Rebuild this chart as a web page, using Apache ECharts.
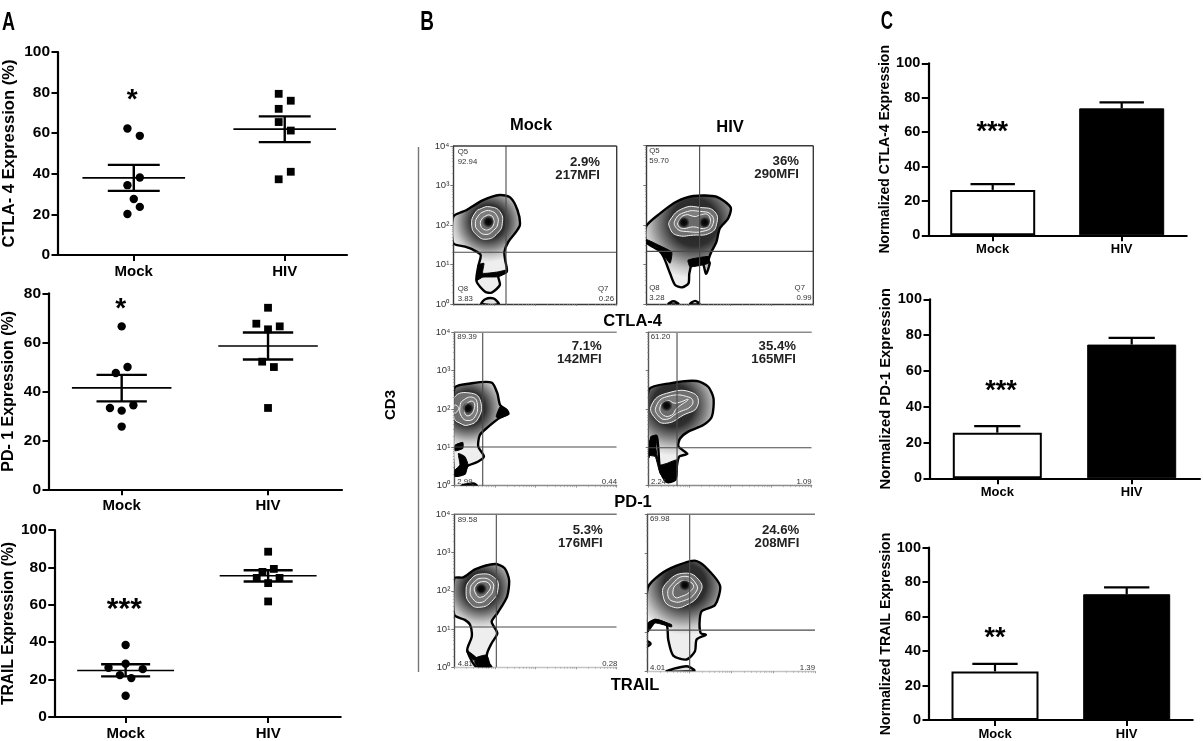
<!DOCTYPE html>
<html><head><meta charset="utf-8">
<style>html,body{margin:0;padding:0;background:#fff}#c{width:1203px;height:741px}</style>
<script src="https://cdn.jsdelivr.net/npm/echarts@6/dist/echarts.min.js"></script>
</head><body><div id="c"></div>
<script>
const groups = ['Mock', 'HIV'];

// Panel A: each dot [group position with jitter, percent]
const ctlaMockDots = [[0.958,62.3],[1.04,58.7],[1.04,38.2],[0.958,34.4],[1,27.6],[1.04,23.7],[0.958,20.2]];
const ctlaHivDots  = [[1.96,79.4],[2.04,76],[1.96,72],[1.96,65.5],[2.04,61.3],[2.04,41],[1.96,37.3]];
const pd1MockDots  = [[1,66.5],[1.04,49.9],[0.96,47.5],[1.08,34.3],[0.92,33.2],[1,32.1],[1,25.6]];
const pd1HivDots   = [[2,74.1],[1.92,67.6],[2.08,66.5],[2,65.3],[1.96,52.1],[2.04,49.9],[2,33.2]];
const trailMockDots= [[1,38.5],[1,28.5],[0.88,26.3],[1.12,25.6],[0.96,22.4],[1.04,20.8],[1,11.4]];
const trailHivDots = [[2,88.4],[2.04,79.2],[1.96,77.6],[1.92,74.4],[2.08,74.4],[2,71.6],[2,61.8]];
// [mean, SEM upper, SEM lower] for Mock, HIV
const ctlaStats  = [[38,44.4,31.6],[62,68.3,55.6]];
const pd1Stats   = [[41.4,46.7,35.9],[58.5,64,53]];
const trailStats = [[24.9,28.2,21.7],[75.5,78.5,72.5]];

// Panel C: normalized means and upper error
const ctlaNormMeans  = [26.4,73.8];
const ctlaNormErr    = [29.8,77.3];
const pd1NormMeans   = [25.5,74.7];
const pd1NormErr     = [29.2,78.4];
const trailNormMeans = [28.2,73];
const trailNormErr   = [32.6,77];

// Panel B: contours, in decades of fluorescence [log10 x, log10 CD3]
const ctlaMockOutline = [[0,2.21],[.33,2.38],[.73,2.63],[1.14,2.76],[1.39,2.70],[1.57,2.38],[1.63,2.0],[1.51,1.79],[1.35,1.58],[1.25,1.32],[1.27,1.11],[1.31,.82],[1.10,.73],[1.14,.48],[.94,.29],[.78,.31],[.57,.57],[.61,.95],[.67,1.24],[.49,1.37],[.29,1.45],[0,1.54]];
const ctlaMockExtra = [[[.69,0],[.78,.12],[.98,.14],[1.11,0]]];
const ctlaMockHeavy = [[[.61,.99],[.75,1.03],[.72,.78],[1.08,.81],[1.31,.86],[1.31,.79],[1.10,.69],[.72,.68],[.56,.59],[.59,.82]]];
const ctlaMockRings = [
 [[.90,2.46],[1.14,2.34],[1.20,2.04],[1.08,1.79],[.82,1.64],[.57,1.75],[.45,2.0],[.53,2.30],[.69,2.42]],
 [[.90,2.36],[1.06,2.25],[1.09,2.03],[.98,1.86],[.80,1.76],[.61,1.86],[.54,2.03],[.61,2.23],[.75,2.34]],
 [[.90,2.25],[.98,2.17],[.98,2.0],[.88,1.89],[.75,1.89],[.67,2.0],[.69,2.14],[.80,2.23]]];
const ctlaMockPeaks = [[.86,2.08]];

const ctlaHivOutline = [[0,1.97],[.33,2.29],[.73,2.59],[1.13,2.73],[1.68,2.71],[2.02,2.44],[1.96,2.16],[1.76,1.91],[1.68,1.57],[1.56,1.32],[1.49,1.11],[1.52,1.03],[1.43,.76],[1.35,1.03],[1.13,1.11],[1.03,.77],[1.01,.52],[.85,.42],[.69,.48],[.57,.77],[.41,1.20],[.29,1.36],[0,1.57]];
const ctlaHivExtra = [[[.53,0],[.65,.07],[.77,0]],[[1.05,0],[1.17,.08],[1.27,0]]];
const ctlaHivHeavy = [[[0,1.63],[.33,1.47],[.61,1.31],[.57,1.03],[.41,1.24],[.21,1.45],[0,1.53]],[[1.0,1.11],[1.49,1.2],[1.49,1.03],[1.05,.94]]];
const ctlaHivRings = [
 [[.57,2.12],[.89,2.42],[1.29,2.44],[1.64,2.33],[1.68,2.0],[1.52,1.79],[1.13,1.74],[.73,1.74],[.57,1.91]],
 [[.69,2.12],[.93,2.32],[1.29,2.34],[1.56,2.25],[1.59,2.0],[1.41,1.85],[.97,1.83],[.73,1.91]],
 [[.77,2.08],[.93,2.25],[1.17,2.21],[1.29,2.25],[1.48,2.25],[1.52,2.02],[1.37,1.91],[1.13,1.95],[.89,1.91],[.77,1.97]]];
const ctlaHivPeaks = [[.9,2.06],[1.4,2.06]];

const pd1MockOutline = [[0,2.54],[.43,2.67],[.92,2.69],[1.06,2.41],[1.13,2.10],[1.29,1.97],[1.33,1.87],[1.13,1.78],[.84,1.54],[.63,1.32],[.59,1.02],[.73,.76],[.59,.63],[.30,.50],[.26,.32],[0,.28]];
const pd1MockExtra = [[[.18,0],[.47,.06],[.55,0]]];
const pd1MockHeavy = [[[.10,.84],[.26,.76],[.34,.54],[.26,.32],[.02,.26],[.02,.41],[.14,.54]],[[.02,1.06],[.21,1.13],[.21,.97],[.02,.91]],[[1.13,2.06],[1.29,1.99],[1.34,1.87],[1.13,1.76],[1.03,1.8]]];
const pd1MockRings = [
 [[0,2.3],[.43,2.41],[.65,2.19],[.59,1.76],[.34,1.58],[.14,1.63],[0,1.76]],
 [[.22,2.23],[.47,2.30],[.57,2.10],[.51,1.80],[.34,1.70],[.18,1.80],[.14,2.06]],
 [[.30,2.13],[.47,2.19],[.48,1.97],[.34,1.82],[.25,1.93]],
 [[0,2.1],[.11,2.02],[0,1.89]]];
const pd1MockPeaks = [[.34,2.02]];

const pd1HivOutline = [[0,2.5],[.52,2.67],[1.18,2.73],[1.46,2.58],[1.59,2.28],[1.55,1.80],[1.34,1.58],[.97,1.41],[.77,1.23],[.73,1.02],[.95,.83],[.75,.76],[.69,.50],[.65,.15],[.44,.10],[.28,.41],[.20,1.28],[.03,1.15],[0,.76]];
const pd1HivExtra = [];
const pd1HivHeavy = [[[.05,1.28],[.20,1.32],[.18,.97],[.26,.54],[.44,.58],[.69,.67],[.69,.23],[.48,.08],[.28,.32],[.16,.76],[0,.8],[.02,1.06]]];
const pd1HivRings = [
 [[.07,2.10],[.44,2.41],[1.10,2.41],[1.19,2.06],[.85,1.84],[.44,1.63],[.16,1.76]],
 [[.18,2.06],[.44,2.32],[1.01,2.30],[1.06,2.10],[.69,1.89],[.44,1.73],[.24,1.82]],
 [[.28,2.06],[.46,2.22],[.65,2.15],[.97,2.25],[.69,2.02],[.56,1.84],[.36,1.84]]];
const pd1HivPeaks = [[.44,2.09]];

const trailMockOutline = [[0,2.33],[.22,2.35],[.51,2.56],[1.0,2.70],[1.24,2.59],[1.35,2.28],[1.30,1.85],[1.06,1.41],[.92,1.19],[1.06,.89],[.92,.63],[.81,.37],[.81,.15],[.91,0],[.55,0],[.32,.45],[.43,.80],[.39,1.11],[.26,1.24],[0,1.37]];
const trailMockExtra = [];
const trailMockHeavy = [[[.51,.24],[.80,.32],[.88,0],[.59,0],[.51,.10]],[[.30,.45],[.47,.32],[.55,.24],[.47,.19],[.32,.37]]];
const trailMockRings = [
 [[.67,2.44],[1.0,2.33],[1.08,2.07],[.92,1.72],[.63,1.57],[.39,1.67],[.29,1.98],[.39,2.28]],
 [[.67,2.33],[.92,2.24],[.96,2.04],[.84,1.83],[.63,1.69],[.45,1.80],[.39,2.02],[.47,2.21]],
 [[.70,2.24],[.88,2.15],[.84,1.98],[.65,1.83],[.53,1.92],[.51,2.11]]];
const trailMockPeaks = [[.66,2.05]];

const trailHivOutline = [[0,2.12],[.29,2.46],[.69,2.69],[1.13,2.82],[1.37,2.67],[1.73,2.18],[1.61,1.69],[1.29,1.53],[1.24,1.23],[1.27,.97],[1.39,.93],[1.17,.81],[1.13,.51],[.93,.30],[.61,.40],[.49,.81],[.45,1.19],[.18,1.30],[0,1.06]];
const trailHivExtra = [[[.45,0],[.93,.13],[1.11,.04],[1.11,0]],[[0,.76],[.07,.70],[0,.64]]];
const trailHivHeavy = [[[0,1.23],[.18,1.33],[.57,1.19],[.57,1.13],[.18,1.23],[0,.99]]];
const trailHivRings = [
 [[.89,2.5],[1.25,2.29],[1.25,2.0],[.93,1.69],[.57,1.65],[.37,1.91],[.45,2.25]],
 [[.89,2.42],[1.17,2.20],[1.13,1.99],[.89,1.81],[.61,1.78],[.48,1.95],[.57,2.20]],
 [[.89,2.31],[1.09,2.20],[1.01,2.03],[.81,1.91],[.65,1.89],[.61,2.08],[.73,2.25]]];
const trailHivPeaks = [[.89,2.20]];

// Quadrant gates, in decades [x, y]
const ctlaMockGate=[1.29,1.31], ctlaHivGate=[1.277,1.33], pd1MockGate=[.70,1.01], pd1HivGate=[.695,.99], trailMockGate=[1.035,1.054], trailHivGate=[1.004,1.05];

const FONT = '"Liberation Sans", Arial, sans-serif';
const grids=[], xAxes=[], yAxes=[], series=[], graphics=[];

function txt(x,y,text,size,opt){
  opt=opt||{};
  graphics.push({type:'text',x:x,y:y,rotation:opt.rot||0,scaleX:opt.sx||1,z:50,style:{text:text,fill:opt.color||'#000',
    font:(opt.weight||'bold')+' '+size+'px '+(opt.family||FONT),textAlign:opt.align||'center',textVerticalAlign:'middle'}});
}
function segs(i,rows,width){
  series.push({type:'custom',xAxisIndex:i,yAxisIndex:i,data:rows,silent:true,z:5,encode:{x:[0,2],y:[1,3]},
    renderItem:function(p,api){
      const a=api.coord([api.value(0),api.value(1)]),b=api.coord([api.value(2),api.value(3)]);
      return {type:'line',shape:{x1:a[0],y1:a[1],x2:b[0],y2:b[1]},style:{stroke:'#000',lineWidth:width}};
    }});
}
function statAxes(g,fs){
  const i=grids.length, unit=g.t2-g.t1, min=1-(g.t1-g.left)/unit, max=min+g.w/unit;
  grids.push({left:g.left,top:g.top,width:g.w,height:g.h,containLabel:false});
  xAxes.push({gridIndex:i,type:'value',min:min,max:max,splitLine:{show:false},
    axisLine:{onZero:false,lineStyle:{color:'#000',width:2.2}},
    axisTick:{show:true,length:6,customValues:[1,2],lineStyle:{color:'#000',width:2}},
    axisLabel:{show:true,customValues:[1,2],margin:g.xm,color:'#000',fontFamily:FONT,fontWeight:'bold',fontSize:fs.x,
      showMinLabel:true,showMaxLabel:true,formatter:function(v){return groups[Math.round(v)-1]||'';}}});
  yAxes.push({gridIndex:i,type:'value',min:0,max:g.max,interval:20,splitLine:{show:false},
    name:g.name,nameLocation:'middle',nameRotate:90,nameGap:g.gap,
    nameTextStyle:{color:'#000',fontFamily:FONT,fontWeight:'bold',fontSize:g.nfs},
    axisLine:{show:true,lineStyle:{color:'#000',width:2.2}},
    axisTick:{show:true,length:6.5,lineStyle:{color:'#000',width:2}},
    axisLabel:{margin:8,color:'#000',fontFamily:FONT,fontWeight:'bold',fontSize:fs.y,showMinLabel:true,showMaxLabel:true}});
  return i;
}
function dotPanel(g,mock,hiv,stats){
  const i=statAxes(g,{x:15,y:15.5});
  series.push({type:'scatter',xAxisIndex:i,yAxisIndex:i,data:mock,symbol:'circle',symbolSize:8.4,itemStyle:{color:'#000',opacity:1},silent:true,z:3});
  series.push({type:'scatter',xAxisIndex:i,yAxisIndex:i,data:hiv,symbol:'rect',symbolSize:7.8,itemStyle:{color:'#000',opacity:1},silent:true,z:3});
  const rows=[], sem=[];
  stats.forEach(function(s,k){
    const c=k+1;
    rows.push([c-.34,s[0],c+.34,s[0]]);
    sem.push([c-.172,s[1],c+.172,s[1]],[c-.172,s[2],c+.172,s[2]],[c,s[1],c,s[2]]);
  });
  segs(i,rows,1.6); segs(i,sem,2.4);
}
function barPanel(g,means,errs){
  const i=statAxes(g,{x:13,y:14.5});
  series.push({type:'bar',xAxisIndex:i,yAxisIndex:i,barWidth:g.bw,silent:true,z:2,
    data:[{value:[1,means[0]],itemStyle:{color:'#fff',borderColor:'#000',borderWidth:2}},
          {value:[2,means[1]],itemStyle:{color:'#000',borderColor:'#000',borderWidth:1}}]});
  const rows=[];
  means.forEach(function(m,k){const c=k+1;rows.push([c,m,c,errs[k]],[c-.172,errs[k],c+.172,errs[k]]);});
  segs(i,rows,2.2);
}

dotPanel({left:56,top:52,w:291,h:203,t1:132.3,t2:284.3,max:100,name:'CTLA- 4 Expression (%)',gap:40,nfs:16.6,xm:9},ctlaMockDots,ctlaHivDots,ctlaStats);
dotPanel({left:47.7,top:293.3,w:294.3,h:196,t1:120.7,t2:267.7,max:80,name:'PD- 1 Expression (%)',gap:32,nfs:16,xm:9},pd1MockDots,pd1HivDots,pd1Stats);
dotPanel({left:53,top:530,w:287.7,h:190.3,t1:124.3,t2:267.7,max:100,name:'TRAIL Expression (%)',gap:37,nfs:15.6,xm:9},trailMockDots,trailHivDots,trailStats);

barPanel({left:928.3,top:63.3,w:258.4,h:172,t1:992.7,t2:1121.7,max:100,name:'Normalized CTLA-4 Expression',gap:32,nfs:14,xm:8,bw:85},ctlaNormMeans,ctlaNormErr);
barPanel({left:930,top:299.3,w:270,h:179,t1:997.3,t2:1131.7,max:100,name:'Normalized PD-1 Expression',gap:33,nfs:14.8,xm:8,bw:89},pd1NormMeans,pd1NormErr);
barPanel({left:929,top:547.7,w:263.7,h:175,t1:995,t2:1126.7,max:100,name:'Normalized TRAIL Expression',gap:32,nfs:14.2,xm:8,bw:87},trailNormMeans,trailNormErr);

const pow=function(p){return [Math.pow(10,p[0]),Math.pow(10,p[1])];};
function flow(g,d){
  const i=grids.length, fr=g.frame;
  grids.push({left:g.left,top:g.top,width:g.w,height:g.h,show:false});
  const sup={0:'\u2070',1:'\u00b9',2:'\u00b2',3:'\u00b3',4:'\u2074'};
  xAxes.push({gridIndex:i,type:'log',logBase:10,min:1,max:10000,splitLine:{show:false},
    axisLine:{onZero:false,lineStyle:{color:fr.bottom,width:1.4}},
    axisTick:{show:true,length:2,lineStyle:{color:'#777',width:.7}},
    minorTick:{show:true,length:1.5,splitNumber:9,lineStyle:{color:'#999',width:.6}},
    axisLabel:{show:false}});
  yAxes.push({gridIndex:i,type:'log',logBase:10,min:1,max:10000,splitLine:{show:false},
    axisLine:{show:true,lineStyle:{color:fr.left,width:1.4}},
    axisTick:{show:true,length:3,lineStyle:{color:'#555',width:.8}},
    minorTick:{show:true,length:1.5,splitNumber:9,lineStyle:{color:'#888',width:.6}},
    axisLabel:{show:!!g.labels,margin:4,color:'#333',fontFamily:FONT,fontSize:9.5,showMinLabel:true,showMaxLabel:true,
      formatter:function(v){return '10'+sup[Math.round(Math.log10(v))];}}});
  series.push({type:'custom',xAxisIndex:i,yAxisIndex:i,data:[[1,1]],silent:true,z:2,
    renderItem:function(p,api){
      const toPts=function(a){return a.map(function(q){return api.coord(pow(q));});};
      const kids=[];
      const peak=api.coord(pow(d.center));
      (d.extra||[]).forEach(function(b){kids.push({type:'polygon',shape:{points:toPts(b),smooth:.3},style:{fill:'#e4e4e4',stroke:'#000',lineWidth:2.4}});});
      kids.push({type:'polygon',shape:{points:toPts(d.outline),smooth:.25},style:{
        fill:new echarts.graphic.RadialGradient(peak[0],peak[1],g.r,[
          {offset:0,color:'#222'},{offset:.42,color:'#2e2e2e'},{offset:.62,color:'#777'},{offset:.82,color:'#c2c2c2'},{offset:1,color:'#eeeeee'}],true),
        stroke:'#000',lineWidth:2.4}});
      d.heavy.forEach(function(b){kids.push({type:'polygon',shape:{points:toPts(b),smooth:.15},style:{fill:'#000',stroke:'#000',lineWidth:1}});});
      d.rings.forEach(function(b,k){kids.push({type:'polygon',shape:{points:toPts(b),smooth:.5},style:{fill:['#6f6f6f','#7d7d7d','#6a6a6a','#777'][k],stroke:'#f2f2f2',lineWidth:1}});});
      d.peaks.forEach(function(b){const c=api.coord(pow(b));
        kids.push({type:'circle',shape:{cx:c[0],cy:c[1],r:6},style:{fill:new echarts.graphic.RadialGradient(.5,.5,.5,[{offset:0,color:'rgba(0,0,0,1)'},{offset:.5,color:'rgba(0,0,0,.85)'},{offset:1,color:'rgba(0,0,0,0)'}])}});});
      const gate=api.coord(pow(d.gate)), cs=p.coordSys;
      kids.push({type:'line',shape:{x1:gate[0],y1:cs.y,x2:gate[0],y2:cs.y+cs.height},style:{stroke:'#4a4a4a',lineWidth:1.1}});
      kids.push({type:'line',shape:{x1:cs.x,y1:gate[1],x2:cs.x+cs.width,y2:gate[1]},style:{stroke:'#4a4a4a',lineWidth:1.1}});
      const lines=[{type:'line',shape:{x1:cs.x,y1:cs.y,x2:cs.x+cs.width,y2:cs.y},style:{stroke:fr.top,lineWidth:1.4}}];
      if(fr.right) lines.push({type:'line',shape:{x1:cs.x+cs.width,y1:cs.y,x2:cs.x+cs.width,y2:cs.y+cs.height},style:{stroke:fr.right,lineWidth:1.4}});
      return {type:'group',children:[{type:'group',children:kids,clipPath:{type:'rect',shape:{x:cs.x,y:cs.y,width:cs.width,height:cs.height}}}].concat(lines)};
    }});
}
const darkFrame={top:'#3a3a3a',right:'#3a3a3a',bottom:'#3a3a3a',left:'#3a3a3a'};
const openFrame={top:'#8c8c8c',right:null,bottom:'#8c8c8c',left:'#555'};
const fadedFrame={top:'#777',right:null,bottom:'#c4c4c4',left:'#444'};
flow({left:453.3,top:146,w:163.4,h:158,labels:true,r:40,frame:darkFrame},{outline:ctlaMockOutline,extra:ctlaMockExtra,heavy:ctlaMockHeavy,rings:ctlaMockRings,peaks:ctlaMockPeaks,center:ctlaMockPeaks[0],gate:ctlaMockGate});
flow({left:646.3,top:145.7,w:167,h:158.3,r:56,frame:darkFrame},{outline:ctlaHivOutline,extra:ctlaHivExtra,heavy:ctlaHivHeavy,rings:ctlaHivRings,peaks:ctlaHivPeaks,center:[1.15,2.06],gate:ctlaHivGate});
flow({left:454.3,top:332.3,w:162.4,h:153.4,labels:true,r:40,frame:openFrame},{outline:pd1MockOutline,extra:pd1MockExtra,heavy:pd1MockHeavy,rings:pd1MockRings,peaks:pd1MockPeaks,center:pd1MockPeaks[0],gate:pd1MockGate});
flow({left:648.7,top:332.3,w:163,h:153.4,r:50,frame:openFrame},{outline:pd1HivOutline,extra:pd1HivExtra,heavy:pd1HivHeavy,rings:pd1HivRings,peaks:pd1HivPeaks,center:[.6,2.09],gate:pd1HivGate});
flow({left:454.3,top:514.3,w:162.4,h:153,labels:true,r:40,frame:fadedFrame},{outline:trailMockOutline,extra:trailMockExtra,heavy:trailMockHeavy,rings:trailMockRings,peaks:trailMockPeaks,center:trailMockPeaks[0],gate:trailMockGate});
flow({left:647.7,top:514.3,w:167.3,h:157,r:50,frame:fadedFrame},{outline:trailHivOutline,extra:trailHivExtra,heavy:trailHivHeavy,rings:trailHivRings,peaks:trailHivPeaks,center:trailHivPeaks[0],gate:trailHivGate});

// Panel letters
txt(8.5,23.5,'A',25,{sx:.72});
txt(427,22.5,'B',27,{sx:.7});
txt(887,22.5,'C',25,{sx:.68});

// Significance marks (the asterisk sits above its text box centre)
function stars(x,y,s,size){txt(x,y+size*.2,s,size);}
stars(132.3,95,'*',28); stars(120.7,304,'*',28); stars(124.3,604,'***',30);
stars(992.3,126.7,'***',27); stars(1001,385.7,'***',27); stars(995,633.3,'**',27);

// Panel B headings
txt(531,125.7,'Mock',16.5); txt(730,127.7,'HIV',16.5);
txt(632.7,321,'CTLA-4',16.5); txt(633,502.7,'PD-1',16.5); txt(635,685,'TRAIL',16.5);
txt(391,405,'CD3',15,{rot:Math.PI/2});
graphics.push({type:'line',shape:{x1:418.5,y1:147,x2:418.5,y2:672},style:{stroke:'#777',lineWidth:1.4}});

// Percent / MFI
[[600,162,'2.9%','217MFI'],[799,161,'36%','290MFI'],[601.7,346.7,'7.1%','142MFI'],[796,346.7,'35.4%','165MFI'],[602.7,530,'5.3%','176MFI'],[799.3,530,'24.6%','208MFI']]
.forEach(function(r){txt(r[0],r[1],r[2],13.2,{align:'right',color:'#222'});txt(r[0],r[1]+13,r[3],13.2,{align:'right',color:'#222'});});

// Gate labels
function small(x,y,s,align){txt(x,y,s,7.8,{weight:'normal',align:align||'left',color:'#333'});}
small(457.7,151.7,'Q5');small(457.7,161.7,'92.94');small(457.7,289,'Q8');small(457.7,299,'3.83');small(608.3,289,'Q7','right');small(614,299,'0.26','right');
small(649.3,150.7,'Q5');small(649.3,161,'59.70');small(649.3,288,'Q8');small(649.3,298,'3.28');small(805,288,'Q7','right');small(811.7,298,'0.99','right');
small(457.3,337.3,'89.39');small(457.3,482,'2.99');small(617,482,'0.44','right');
small(650.7,337.3,'61.20');small(651,482,'2.24');small(811.7,482,'1.09','right');
small(457.7,520,'89.58');small(457.7,664,'4.81');small(617.3,664,'0.28','right');
small(650,519.3,'69.98');small(650,668.3,'4.01');small(815,668.3,'1.39','right');

const chart=echarts.init(document.getElementById('c'),null,{renderer:'canvas'});
chart.setOption({animation:false,backgroundColor:'#fff',tooltip:{show:false},legend:{show:false},
  grid:grids,xAxis:xAxes,yAxis:yAxes,series:series,graphic:{elements:graphics}});
</script></body></html>
